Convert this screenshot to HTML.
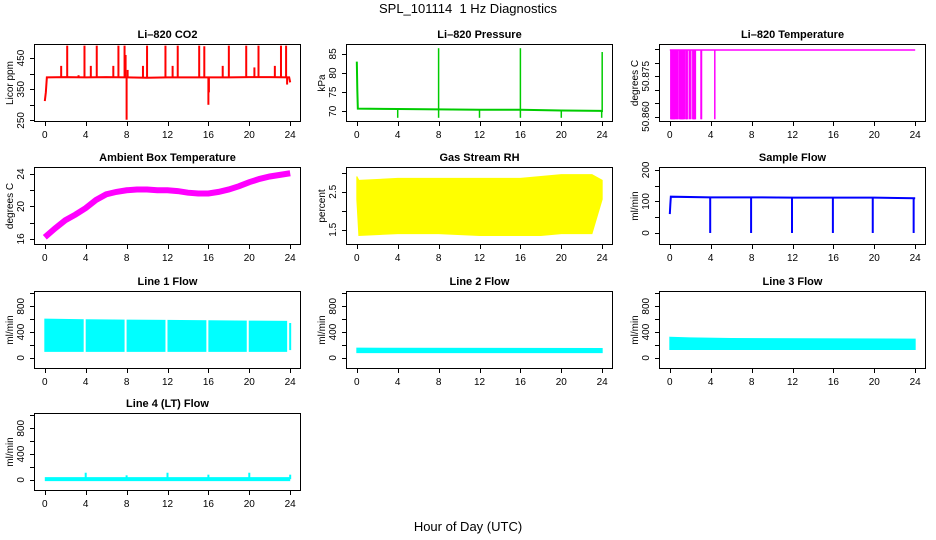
<!DOCTYPE html>
<html><head><meta charset="utf-8">
<style>
html,body{margin:0;padding:0;background:#fff;}
svg{display:block;font-family:"Liberation Sans",Arial,sans-serif;}
</style></head>
<body>
<svg id="chart" width="936" height="540" viewBox="0 0 936 540" xmlns="http://www.w3.org/2000/svg">
<text x="468" y="13" text-anchor="middle" font-size="13" style="white-space:pre">SPL_101114  1 Hz Diagnostics</text>
<text x="468" y="531" text-anchor="middle" font-size="13">Hour of Day (UTC)</text>
</svg>
<script>
// ---- data ----
const xTicks = [0,4,8,12,16,20,24];
// CO2
const co2BaseHours = [0,0.1,0.2,2,4,6,8,10,12,14,16,18,20,22,23.9,24];
const co2BaseVals  = [312,340,388,389,388,389,388,387,388,388,388,388,389,389,388,372];
const co2SpikeHours = [1.6,2.19,3.3,3.88,4.5,5.08,6.7,7.2,7.8,7.9,8.0,8.1,9.6,10.0,11.8,12.5,13.0,15.1,15.6,16.0,16.05,17.4,18.0,19.7,20.5,20.9,22.5,23.1,23.6,23.7];
const co2SpikeVals  = [425,490,395,490,425,490,425,490,490,460,252,412,425,490,490,425,490,490,488,300,340,425,490,490,420,490,425,490,490,365];
// Pressure
const presBaseHours = [0,0.05,0.1,4,8,12,16,20,23.9,24];
const presBaseVals  = [83,75.5,70.7,70.6,70.5,70.4,70.4,70.2,70.1,69.8];
const presSpikeHours = [4,8,8,12,16,16,20,24,23.95];
const presSpikeVals  = [68.3,86.5,68.3,68.3,86.5,68.3,68.3,85.5,68.3];
// Li-820 temperature
const tempHigh = 50.8848;
const tempLow = 50.859;
const tempDropHours = [0.1,0.15,0.2,0.25,0.3,0.35,0.4,0.45,0.5,0.6,0.7,0.75,0.9,1.0,1.05,1.1,1.15,1.2,1.25,1.3,1.35,1.45,1.6,1.65,1.7,1.9,2.05,2.25,2.3,2.35,2.4,2.45,2.5,3.05,3.1,4.4];
// Ambient box temperature (hourly)
const ambHours = [0,1,2,3,4,5,6,7,8,9,10,11,12,13,14,15,16,17,18,19,20,21,22,23,24];
const ambVals  = [16.2,17.3,18.3,19.0,19.8,20.8,21.5,21.8,22.0,22.1,22.1,22.0,22.0,21.9,21.7,21.6,21.6,21.8,22.1,22.5,23.0,23.4,23.7,23.9,24.1];
// Gas stream RH band
const rhHours = [0,0.2,4,8,12,16,18,20,23,24];
const rhMin = [2.3,1.35,1.4,1.4,1.35,1.35,1.35,1.4,1.4,2.3];
const rhMax = [2.9,2.8,2.85,2.85,2.85,2.85,2.9,2.95,2.95,2.8];
// Sample flow
const sfBaseHours = [0,0.05,0.1,4,8,12,16,20,24];
const sfBaseVals  = [60,90,115,113,113,112,112,112,110];
const sfDropHours = [3.95,7.95,11.95,15.95,19.85,23.85];
const sfDropVals  = [0,0,0,0,0,0];
// Line flows (bands)
const l1Hours = [0,4,8,12,16,20,23.8];
const l1Min = [100,100,100,100,100,100,100];
const l1Max = [600,590,585,580,575,570,565];
const l1GapHours = [3.9,7.9,11.9,15.9,19.85,23.8];
const l2Hours = [0,24];
const l2Min = [80,80];
const l2Max = [150,145];
const l3Hours = [0,2,6,24];
const l3Min = [130,130,130,130];
const l3Max = [320,310,300,290];
const l4BaseHours = [0,24];
const l4BaseVals = [10,10];
const l4SpikeHours = [4,8,12,16,20,24];
const l4SpikeVals = [110,70,110,80,110,80];

// ---- layout ----
const colX = [35,347,660];
const rowY = [45,168,292,414];
const W = 265, H = 76;
const NS = "http://www.w3.org/2000/svg";
const svg = document.getElementById('chart');

function mk(tag, attrs, parent){
  const e = document.createElementNS(NS, tag);
  for (const k in attrs) e.setAttribute(k, attrs[k]);
  (parent||svg).appendChild(e);
  return e;
}
function panel(col,row,ymin,ymax,title,ylab,yt,ylabels,name){
  const x0 = colX[col], y0 = rowY[row];
  const g = mk('g',{});
  
  
  const sx = h => x0 + W*(0.96+h)/25.92;
  const r = ymax-ymin, lo = ymin-0.04*r, hi = ymax+0.04*r;
  const sy = v => y0 + H - H*(v-lo)/(hi-lo);
  const t = mk('text',{x:x0+W/2,y:y0-7,'text-anchor':'middle','font-size':11,'font-weight':'bold'},g);
  t.textContent = title;
  
  
  const yl = mk('text',{x:0,y:0,'text-anchor':'middle','font-size':10,transform:`translate(${x0-22},${y0+H/2}) rotate(-90)`},g);
  yl.textContent = ylab;
  
  
  const xa = mk('g',{stroke:'#000','stroke-width':1},g);
  
  
  mk('line',{x1:sx(0),x2:sx(24),y1:y0+H+0.5,y2:y0+H+0.5},xa);
  xTicks.forEach(v=>{
    mk('line',{x1:Math.round(sx(v))+0.5,x2:Math.round(sx(v))+0.5,y1:y0+H,y2:y0+H+5},xa);
    const tl = mk('text',{x:sx(v),y:y0+H+17,'text-anchor':'middle','font-size':10,stroke:'none'},g);
    tl.textContent = v;
    
    
  });
  const ya = mk('g',{stroke:'#000','stroke-width':1},g);
  
  
  mk('line',{x1:x0-0.5,x2:x0-0.5,y1:sy(yt[0]),y2:sy(yt[yt.length-1])},ya);
  yt.forEach((v,i)=>{
    const yy = Math.round(sy(v))+0.5;
    mk('line',{x1:x0-5,x2:x0,y1:yy,y2:yy},ya);
    if (ylabels[i] !== ''){
      const tl = mk('text',{x:0,y:0,'text-anchor':'middle','font-size':10,stroke:'none',transform:`translate(${x0-11},${sy(v)}) rotate(-90)`},g);
      tl.textContent = ylabels[i];
      
      
    }
  });
  const clip = mk('g',{},g);
  return {g:clip, sx, sy, x0, y0, box:()=>{
    const b = mk('rect',{x:x0-0.5,y:y0-0.5,width:W+1,height:H+1,fill:'none',stroke:'#000','stroke-width':1},g);
    
    
  }};
}
function polyline(p, hours, vals, color, sw, nm){
  const pts = hours.map((h,i)=>p.sx(h)+','+p.sy(vals[i])).join(' ');
  const e = mk('polyline',{points:pts,fill:'none',stroke:color,'stroke-width':sw},p.g);
  
  
}
function spikes(p, baseHours, baseVals, hours, vals, color, sw, nm){
  hours.forEach((h,i)=>{
    let b = baseVals[baseVals.length-1];
    for (let k=0;k<baseHours.length-1;k++){
      if (h>=baseHours[k] && h<=baseHours[k+1]){
        const f=(h-baseHours[k])/((baseHours[k+1]-baseHours[k])||1);
        b=baseVals[k]+f*(baseVals[k+1]-baseVals[k]);break;}
    }
    const e = mk('line',{x1:p.sx(h),x2:p.sx(h),y1:p.sy(b),y2:p.sy(vals[i]),stroke:color,'stroke-width':sw},p.g);
    
    
  });
}
function band(p, hours, mins, maxs, color, nm){
  const top = hours.map((h,i)=>p.sx(h)+','+p.sy(maxs[i]));
  const bot = hours.map((h,i)=>p.sx(h)+','+p.sy(mins[i])).reverse();
  const e = mk('polygon',{points:top.concat(bot).join(' '),fill:color,stroke:color,'stroke-width':1},p.g);
  
  
}

let p = panel(0,0,257,483,'Li\u2013820 CO2','Licor ppm',[250,300,350,400,450],['250','','350','','450'],'co2');
polyline(p, co2BaseHours, co2BaseVals, '#f00', 2, 'co2-baseline');
spikes(p, co2BaseHours, co2BaseVals, co2SpikeHours, co2SpikeVals, '#f00', 2, 'co2-spike');
p.box();
p = panel(1,0,68.2,86.6,'Li\u2013820 Pressure','kPa',[70,75,80,85],['70','75','80','85'],'pressure');
polyline(p, presBaseHours, presBaseVals, '#0c0', 2, 'pressure-baseline');
spikes(p, presBaseHours, presBaseVals, presSpikeHours, presSpikeVals, '#0c0', 1.5, 'pressure-spike');
p.box();
p = panel(2,0,50.8594,50.8856,'Li\u2013820 Temperature','degrees C',[50.860,50.865,50.870,50.875,50.880,50.885],['50.860','','','50.875','',''],'li820-temp');
polyline(p, [0,24], [tempHigh,tempHigh], '#f0f', 1.5, 'li820-temp-line');
tempDropHours.forEach(h=>{
  const e = mk('line',{x1:p.sx(h),x2:p.sx(h),y1:p.sy(tempHigh),y2:p.sy(tempLow),stroke:'#f0f','stroke-width':1.5},p.g);
  
  
});
p.box();
p = panel(0,1,15.72,24.4,'Ambient Box Temperature','degrees C',[16,18,20,22,24],['16','','20','','24'],'ambient-temp');
polyline(p, ambHours, ambVals, '#f0f', 6, 'ambient-temp-line');
p.box();
p = panel(1,1,1.2,3.05,'Gas Stream RH','percent',[1.5,2.0,2.5,3.0],['1.5','','2.5',''],'gas-rh');
band(p, rhHours, rhMin, rhMax, '#ff0', 'gas-rh-band');
p.box();
p = panel(2,1,-26,197,'Sample Flow','ml/min',[0,50,100,150,200],['0','','100','','200'],'sample-flow');
polyline(p, sfBaseHours, sfBaseVals, '#00f', 2, 'sample-flow-line');
spikes(p, sfBaseHours, sfBaseVals, sfDropHours, sfDropVals, '#00f', 2, 'sample-flow-drop');
p.box();
function lineFlow(col,row,title,nm){
  return panel(col,row,-114,977,title,'ml/min',[0,200,400,600,800,1000],['0','','400','','800',''],nm);
}
p = lineFlow(0,2,'Line 1 Flow','line1-flow');
band(p, l1Hours, l1Min, l1Max, '#0ff', 'line1-flow-band');
l1GapHours.forEach(h=>{
  const e = mk('line',{x1:p.sx(h),x2:p.sx(h),y1:p.sy(620),y2:p.sy(90),stroke:'#fff','stroke-width':2},p.g);
  
  
});
polyline(p, [24,24], [120,540], '#0ff', 2, 'line1-flow-end');
p.box();
p = lineFlow(1,2,'Line 2 Flow','line2-flow');
band(p, l2Hours, l2Min, l2Max, '#0ff', 'line2-flow-band');
p.box();
p = lineFlow(2,2,'Line 3 Flow','line3-flow');
band(p, l3Hours, l3Min, l3Max, '#0ff', 'line3-flow-band');
p.box();
p = lineFlow(0,3,'Line 4 (LT) Flow','line4-flow');
polyline(p, l4BaseHours, l4BaseVals, '#0ff', 4, 'line4-flow-baseline');
spikes(p, l4BaseHours, l4BaseVals, l4SpikeHours, l4SpikeVals, '#0ff', 2, 'line4-flow-spike');
p.box();
</script>
</body></html>
